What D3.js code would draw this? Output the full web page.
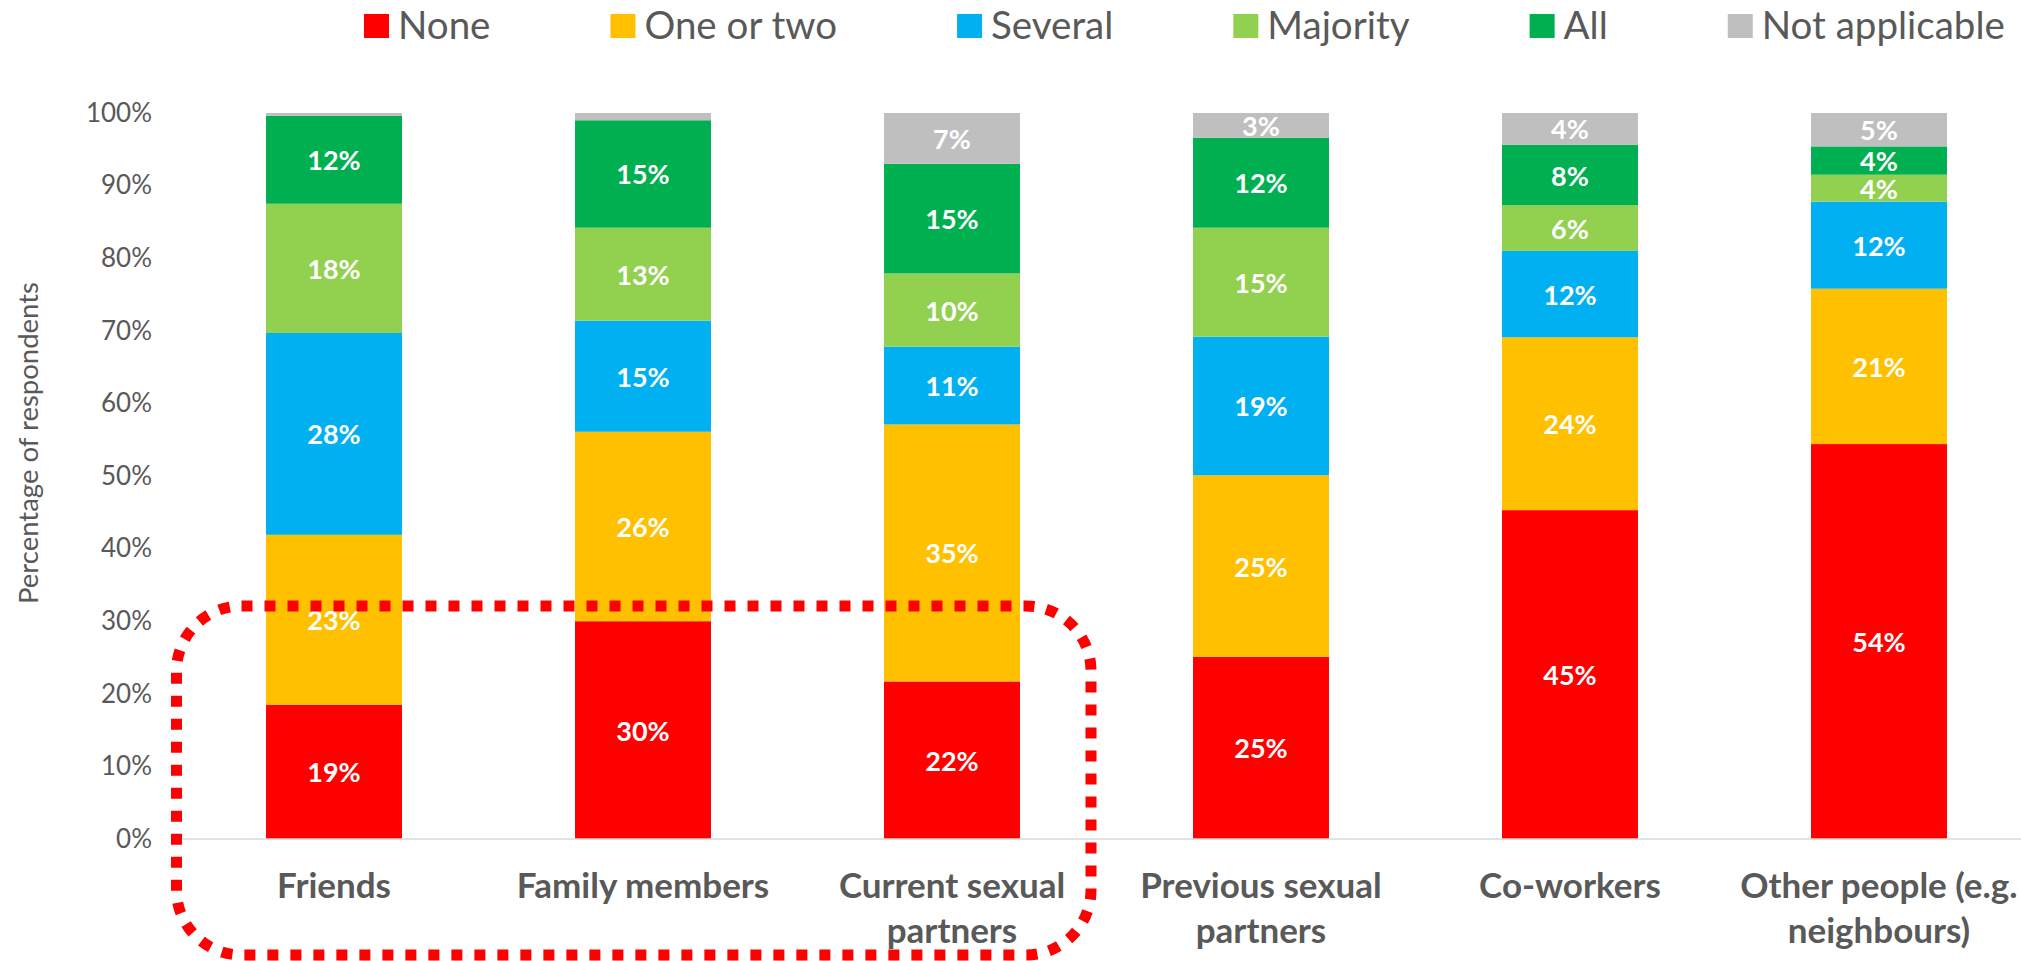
<!DOCTYPE html>
<html>
<head>
<meta charset="utf-8">
<script src="https://cdn.jsdelivr.net/npm/d3@7"></script>
<style>
  html, body { margin: 0; padding: 0; background: #fff; }
  svg { display: block; font-family: Lato, "Open Sans", sans-serif; }
</style>
</head>
<body>
<div id="chart"></div>
<script>
// categories and series (percent of respondents)
const categories = ["Friends", "Family members", "Current sexual\npartners", "Previous sexual\npartners", "Co-workers", "Other people (e.g.\nneighbours)"];
const seriesNames = ["None", "One or two", "Several", "Majority", "All", "Not applicable"];
const seriesColors = ["#FF0000", "#FFC000", "#00B0F0", "#92D050", "#00B050", "#BFBFBF"];

const none          = [18.5, 30.0, 21.7, 25.1, 45.3, 54.4];
const oneOrTwo      = [23.4, 26.1, 35.4, 25.0, 23.8, 21.4];
const several       = [27.8, 15.3, 10.7, 19.1, 11.9, 12.0];
const majority      = [17.8, 12.8, 10.1, 15.0, 6.3, 3.7];
const all           = [12.1, 14.8, 15.1, 12.4, 8.3, 3.9];
const notApplicable = [0.4, 1.0, 7.0, 3.4, 4.4, 4.6];

const yTicks = [0, 10, 20, 30, 40, 50, 60, 70, 80, 90, 100];
const yTitle = "Percentage of respondents";

const width = 2021, height = 961;
const textColor = "#595959";

let svg = d3.select("#chart").append("svg")
    .attr("width", width)
    .attr("height", height);

let x = d3.scaleBand()
    .domain(categories)
    .range([179.5, 2033.5])
    .paddingInner(0.56)
    .paddingOuter(0.28);

let y = d3.scaleLinear()
    .domain([0, 100])
    .range([839, 113]);

// build stack table
let table = categories.map((c, i) => ({
    cat: c,
    "None": none[i],
    "One or two": oneOrTwo[i],
    "Several": several[i],
    "Majority": majority[i],
    "All": all[i],
    "Not applicable": notApplicable[i]
}));
let stacked = d3.stack().keys(seriesNames)(table);

// y axis (no line, no ticks)
let yAxis = svg.append("g")
    .attr("transform", "translate(152,0)")
    .call(d3.axisLeft(y).tickValues(yTicks).tickSize(0).tickPadding(0).tickFormat(d => d + "%"));
yAxis.select(".domain").remove();
yAxis.selectAll("text")
    .attr("fill", textColor)
    .style("font-size", "26px")
    .style("font-family", "Lato, sans-serif");

svg.append("text")
    .attr("transform", "translate(27,443) rotate(-90)")
    .attr("text-anchor", "middle")
    .attr("dominant-baseline", "central")
    .attr("fill", textColor)
    .style("font-size", "27.5px")
    .text(yTitle);

// bars
let layers = svg.append("g").selectAll("g")
    .data(stacked)
    .enter().append("g")
    .attr("fill", (d, i) => seriesColors[i]);

layers.selectAll("rect")
    .data(d => d)
    .enter().append("rect")
    .attr("x", d => x(d.data.cat))
    .attr("width", x.bandwidth())
    .attr("y", d => y(d[1]))
    .attr("height", d => y(d[0]) - y(d[1]));

// data labels
layers.selectAll("text")
    .data(d => d.filter(p => p[1] - p[0] >= 2))
    .enter().append("text")
    .attr("x", d => x(d.data.cat) + x.bandwidth() / 2)
    .attr("y", d => (y(d[0]) + y(d[1])) / 2)
    .attr("text-anchor", "middle")
    .attr("dominant-baseline", "central")
    .attr("fill", "#fff")
    .style("font-size", "27px")
    .style("font-weight", "bold")
    .text(d => Math.round(d[1] - d[0]) + "%");

// baseline
svg.append("line")
    .attr("x1", 179.5).attr("x2", width)
    .attr("y1", y(0)).attr("y2", y(0))
    .attr("stroke", "#D9D9D9")
    .attr("stroke-width", 1.5);

// category labels
let catLabels = svg.append("g").selectAll("text")
    .data(categories)
    .enter().append("text")
    .attr("x", d => x(d) + x.bandwidth() / 2)
    .attr("y", 898)
    .attr("text-anchor", "middle")
    .attr("fill", textColor)
    .style("font-size", "35px")
    .style("font-weight", "bold");
catLabels.selectAll("tspan")
    .data(d => d.split("\n"))
    .enter().append("tspan")
    .attr("x", function () { return d3.select(this.parentNode).attr("x"); })
    .attr("dy", (d, i) => i === 0 ? 0 : 45)
    .text(d => d);

// legend
let legend = svg.append("g");
let lx = 364;
seriesNames.forEach((name, i) => {
    legend.append("rect")
        .attr("x", lx).attr("y", 14)
        .attr("width", 25).attr("height", 24)
        .attr("fill", seriesColors[i]);
    let t = legend.append("text")
        .attr("x", lx + 34).attr("y", 39)
        .attr("fill", textColor)
        .style("font-size", "38.5px")
        .text(name);
    lx = lx + 34 + t.node().getComputedTextLength() + 120;
});

// highlight box round first three categories
svg.append("rect")
    .attr("x", 176.5).attr("y", 606)
    .attr("width", 914.5).attr("height", 349)
    .attr("rx", 65).attr("ry", 65)
    .attr("fill", "none")
    .attr("stroke", "#FF0000")
    .attr("stroke-width", 11)
    .attr("stroke-dasharray", "11 12");
</script>
</body>
</html>
